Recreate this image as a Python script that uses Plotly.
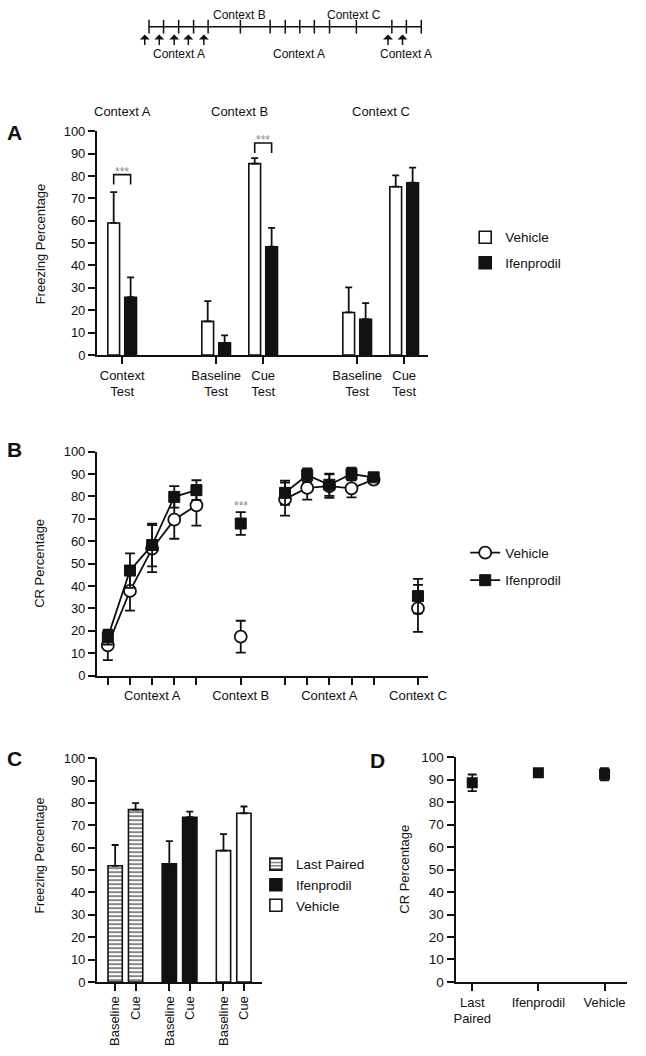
import plotly.graph_objects as go

W, H = 646, 1056
FONT = "Liberation Sans, Arial, sans-serif"
INK = "#111111"


def fx(p):
    return min(max(p / W, 0), 1)


def fy(p):
    return min(max(1 - p / H, 0), 1)


# ---------------- data ----------------
a_tests = ["Context<br>Test", "Baseline<br>Test", "Cue<br>Test", "Baseline<br>Test", "Cue<br>Test"]
a_contexts = ["Context A", "Context B", "Context C"]
a_vehicle = [59.0, 15.0, 85.5, 19.0, 75.2]
a_vehicle_err = [13.8, 9.1, 2.5, 11.2, 5.1]
a_ifenprodil = [25.8, 5.4, 48.4, 16.0, 77.0]
a_ifenprodil_err = [8.9, 3.4, 8.4, 7.2, 6.7]

b_session_labels = ["", "", "Context A", "", "", "", "Context B", "", "", "", "Context A", "", "", "", "Context C"]
b_vehicle = [13.5, 37.8, 56.7, 69.6, 76.0, None, 17.4, None, 78.8, 83.8, 84.6, 83.6, 87.5, None, 30.0]
b_vehicle_err = [6.6, 8.8, 10.5, 8.5, 9.0, None, 7.1, None, 7.4, 5.2, 5.2, 4.0, 1.5, None, 10.5]
b_ifenprodil = [17.2, 46.9, 58.3, 79.8, 82.8, None, 67.9, None, 81.6, 89.5, 85.2, 90.0, 88.5, None, 35.5]
b_ifenprodil_err = [3.3, 7.7, 9.5, 4.8, 4.4, None, 5.1, None, 5.4, 3.0, 5.0, 2.8, 1.5, None, 7.7]

c_tests = ["Baseline", "Cue"]
c_last_paired = [51.9, 77.0]
c_last_paired_err = [9.3, 2.9]
c_ifenprodil = [52.8, 73.6]
c_ifenprodil_err = [10.1, 2.5]
c_vehicle = [58.7, 75.4]
c_vehicle_err = [7.4, 3.0]

d_groups = ["Last<br>Paired", "Ifenprodil", "Vehicle"]
d_values = [88.6, 93.1, 92.4]
d_err = [3.7, 0.8, 2.7]

# ---------------- layout positions ----------------
a_pos = [0, 2, 3, 5, 6]
a_ctx_pos = [0, 2.5, 5.5]
b_pos = list(range(15))
c_pos_lp = [0, 1]
c_pos_if = [2.65, 3.65]
c_pos_ve = [5.3, 6.3]
d_pos = [0, 1, 2]
BW_A = 0.25

fig = go.Figure()

fig.add_trace(go.Bar(
    x=a_pos, y=a_vehicle, width=BW_A, offset=-0.305, name="Vehicle",
    marker=dict(color="white", line=dict(color=INK, width=1.6)),
    error_y=dict(type="data", symmetric=False, array=a_vehicle_err, arrayminus=[0] * 5,
                 color=INK, thickness=1.8, width=3.5),
    xaxis="x", yaxis="y", legend="legend", legendgroup="aV"))
fig.add_trace(go.Bar(
    x=a_pos, y=a_ifenprodil, width=BW_A, offset=0.055, name="Ifenprodil",
    marker=dict(color=INK, line=dict(color=INK, width=1.6)),
    error_y=dict(type="data", symmetric=False, array=a_ifenprodil_err, arrayminus=[0] * 5,
                 color=INK, thickness=1.8, width=3.5),
    xaxis="x", yaxis="y", legend="legend", legendgroup="aI"))

fig.add_trace(go.Scatter(
    x=b_pos, y=b_vehicle, mode="lines+markers", name="Vehicle", connectgaps=False,
    line=dict(color=INK, width=1.8),
    marker=dict(symbol="circle", size=12, color="white", line=dict(color=INK, width=1.8)),
    error_y=dict(type="data", array=b_vehicle_err, color=INK, thickness=1.8, width=5),
    xaxis="x2", yaxis="y2", legend="legend2", legendgroup="bV"))
fig.add_trace(go.Scatter(
    x=b_pos, y=b_ifenprodil, mode="lines+markers", name="Ifenprodil", connectgaps=False,
    line=dict(color=INK, width=1.8),
    marker=dict(symbol="square", size=11, color=INK, line=dict(color=INK, width=1)),
    error_y=dict(type="data", array=b_ifenprodil_err, color=INK, thickness=1.8, width=5),
    xaxis="x2", yaxis="y2", legend="legend2", legendgroup="bI"))

c_err = dict(type="data", symmetric=False, color=INK, thickness=1.8, width=3.5)
fig.add_trace(go.Bar(
    x=c_pos_lp, y=c_last_paired, width=0.7, name="Last Paired",
    marker=dict(color="white", line=dict(color=INK, width=1.6),
                pattern=dict(shape="-", fgcolor=INK, bgcolor="white", size=4, solidity=0.5)),
    error_y=dict(c_err, array=c_last_paired_err, arrayminus=[0, 0]),
    xaxis="x3", yaxis="y3", legend="legend3", legendgroup="cL"))
fig.add_trace(go.Bar(
    x=c_pos_if, y=c_ifenprodil, width=0.7, name="Ifenprodil",
    marker=dict(color=INK, line=dict(color=INK, width=1.6)),
    error_y=dict(c_err, array=c_ifenprodil_err, arrayminus=[0, 0]),
    xaxis="x3", yaxis="y3", legend="legend3", legendgroup="cI"))
fig.add_trace(go.Bar(
    x=c_pos_ve, y=c_vehicle, width=0.7, name="Vehicle",
    marker=dict(color="white", line=dict(color=INK, width=1.6)),
    error_y=dict(c_err, array=c_vehicle_err, arrayminus=[0, 0]),
    xaxis="x3", yaxis="y3", legend="legend3", legendgroup="cV"))

fig.add_trace(go.Scatter(
    x=d_pos, y=d_values, mode="markers", showlegend=False,
    marker=dict(symbol="square", size=11, color=INK),
    error_y=dict(type="data", array=d_err, color=INK, thickness=1.8, width=4.5),
    xaxis="x4", yaxis="y4"))


def xax(domain, rng, anchor, tickvals, ticktext, angle=0, size=13):
    return dict(domain=domain, range=rng, anchor=anchor, tickvals=tickvals, ticktext=ticktext,
                showline=True, linecolor=INK, linewidth=2, ticks="outside", ticklen=7,
                tickwidth=2, tickcolor=INK, showgrid=False, zeroline=False, tickangle=angle,
                tickfont=dict(family=FONT, size=size, color=INK), fixedrange=True)


def yax(domain, anchor, size=13):
    return dict(domain=domain, range=[0, 100], anchor=anchor, dtick=10, tick0=0,
                showline=True, linecolor=INK, linewidth=2, ticks="outside", ticklen=7,
                tickwidth=2, tickcolor=INK, showgrid=False, zeroline=False,
                tickfont=dict(family=FONT, size=size, color=INK), fixedrange=True)


b_tickvals = [p for p, v in zip(b_pos, b_vehicle) if v is not None]
b_ticktext = [b_session_labels[p] for p in b_tickvals]

fig.update_layout(
    xaxis=xax([fx(98), fx(440)], [-0.536, 6.515], "y", a_pos, a_tests),
    yaxis=yax([fy(353), fy(126)], "x"),
    xaxis2=xax([fx(98), fx(440)], [-0.49, 14.47], "y2", b_tickvals, b_ticktext),
    yaxis2=yax([fy(678.3), fy(451)], "x2"),
    xaxis3=xax([fx(98), fx(268)], [-0.89, 7.17], "y3",
               c_pos_lp + c_pos_if + c_pos_ve, c_tests * 3, angle=-90),
    yaxis3=yax([fy(989), fy(762)], "x3"),
    xaxis4=xax([fx(468), fx(645)], [-0.253, 2.34], "y4", d_pos, d_groups),
    yaxis4=yax([fy(989), fy(761)], "x4", size=13.5),
)

legfont = dict(family=FONT, size=13.5, color=INK)
fig.update_layout(
    barmode="overlay",
    legend=dict(x=fx(478), y=fy(218), xanchor="left", yanchor="top", font=legfont,
                bgcolor="rgba(0,0,0,0)", tracegroupgap=5, traceorder="grouped"),
    legend2=dict(x=fx(478), y=fy(538), xanchor="left", yanchor="top", font=legfont,
                 bgcolor="rgba(0,0,0,0)", tracegroupgap=7, traceorder="grouped"),
    legend3=dict(x=fx(262), y=fy(854), xanchor="left", yanchor="top", font=legfont,
                 bgcolor="rgba(0,0,0,0)", tracegroupgap=0, traceorder="grouped"),
)

ann = []
shapes = []


def label(text, x, y, size, angle=0, color=INK):
    ann.append(dict(text=text, x=fx(x), y=fy(y), xref="paper", yref="paper", textangle=angle,
                    xanchor="center", yanchor="middle", showarrow=False,
                    font=dict(family=FONT, size=size, color=color)))


for letter, x, y in [("A", 13, 127), ("B", 13, 449), ("C", 13, 762), ("D", 388, 764)]:
    label(f"<b>{letter}</b>", x, y, 21)

for text, x, y, s in [("Freezing Percentage", 40, 240, 13), ("CR Percentage", 39, 564, 13),
                      ("Freezing Percentage", 39, 861, 12.5), ("CR Percentage", 415, 875, 13)]:
    label(text, x, y, s, angle=-90)

for name, p in zip(a_contexts, a_ctx_pos):
    ann.append(dict(text=name, x=p, y=fy(106), xref="x", yref="paper", showarrow=False,
                    xanchor="center", yanchor="middle",
                    font=dict(family=FONT, size=13, color=INK)))

star_font = dict(family=FONT, size=12, color="#8a8a8a")
for p, top, leg, star_y in [(a_pos[0], 80.6, 76.2, 81.6), (a_pos[2], 94.7, 90.3, 95.9)]:
    x0, x1 = p - 0.18, p + 0.18
    shapes.append(dict(type="path", xref="x", yref="y",
                       path=f"M {x0},{leg} L {x0},{top} L {x1},{top} L {x1},{leg}",
                       line=dict(color=INK, width=1.6)))
    ann.append(dict(text="***", x=p, y=star_y, xref="x", yref="y", showarrow=False,
                    xanchor="center", yanchor="middle", font=star_font))
ann.append(dict(text="***", x=6, y=75.6, xref="x2", yref="y2", showarrow=False,
                xanchor="center", yanchor="middle", font=star_font))

# timeline schematic at the top
tl_ticks = [151.7, 166.7, 182.3, 197.7, 212.7, 246, 276.7, 292.3, 307.3, 322.3, 338,
            365.7, 402.3, 417.3, 432.7]
tl_arrows = [147.3, 162.3, 177.7, 192.3, 208.3, 398.3, 413.3]
shapes.append(dict(type="line", xref="paper", yref="paper", x0=fx(tl_ticks[0]), x1=fx(tl_ticks[-1]),
                   y0=fy(20), y1=fy(20), line=dict(color=INK, width=1.5)))
for t in tl_ticks:
    shapes.append(dict(type="line", xref="paper", yref="paper", x0=fx(t), x1=fx(t),
                       y0=fy(13), y1=fy(27), line=dict(color=INK, width=1.5)))
for a in tl_arrows:
    ann.append(dict(text="", x=fx(a), y=fy(28), xref="paper", yref="paper", ax=0, ay=12,
                    showarrow=True, arrowhead=1, arrowsize=1.1, arrowwidth=1.5, arrowcolor=INK))
for text, x, y in [("Context B", 245, 8), ("Context C", 363, 8), ("Context A", 183, 48),
                   ("Context A", 307, 48), ("Context A", 417, 48)]:
    label(text, x, y, 12)

fig.update_layout(
    annotations=ann, shapes=shapes,
    width=W, height=H, autosize=False,
    margin=dict(l=0, r=0, t=0, b=0, pad=0),
    paper_bgcolor="white", plot_bgcolor="white",
    font=dict(family=FONT, color=INK),
)

fig.write_html("out.html", config={"displayModeBar": False},
               post_script="document.body.style.margin='0';document.body.style.overflow='hidden';")
